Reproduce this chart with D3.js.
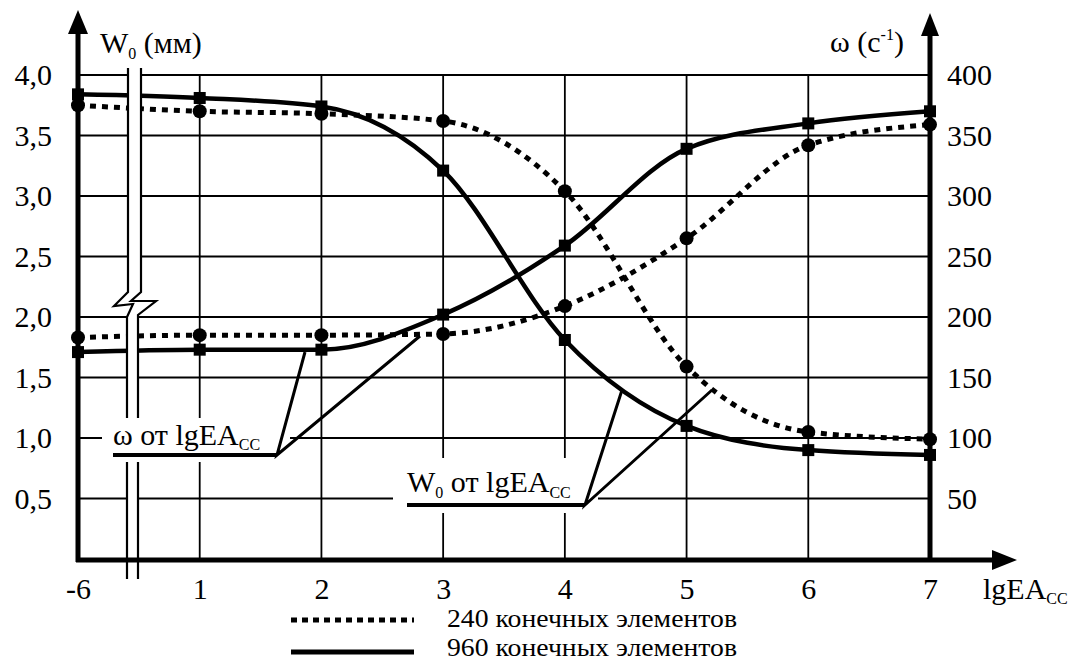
<!DOCTYPE html>
<html>
<head>
<meta charset="utf-8">
<script src="https://cdn.jsdelivr.net/npm/d3@7"></script>
<style>
body { margin: 0; background: #fff; }
</style>
</head>
<body>
<div id="graph"></div>
<script>
// data
var xLabels = ["-6", "1", "2", "3", "4", "5", "6", "7"];
var w0Ticks = [0.5, 1, 1.5, 2, 2.5, 3, 3.5, 4];
var omegaTicks = [50, 100, 150, 200, 250, 300, 350, 400];

var w0_240 = [3.75, 3.70, 3.68, 3.62, 3.04, 1.59, 1.05, 0.99];
var w0_960 = [3.84, 3.81, 3.74, 3.21, 1.81, 1.10, 0.90, 0.86];
var om_240 = [183, 185, 185, 186, 209, 265, 342, 359];
var om_960 = [171, 173, 173, 202, 259, 339, 360, 370];

var W = 1071, H = 662;
var FONT = "'Liberation Serif'";

var x = d3.scaleLinear().domain([0, 7]).range([78, 930]);
var yL = d3.scaleLinear().domain([0, 4]).range([559, 75]);
var yR = d3.scaleLinear().domain([0, 400]).range([559, 75]);

var svg = d3.select("#graph").append("svg")
    .attr("width", W)
    .attr("height", H)
    .style("font-family", FONT);

// grid
svg.append("g").selectAll("line")
    .data(w0Ticks)
    .enter().append("line")
    .attr("x1", x(0)).attr("x2", x(7))
    .attr("y1", function(d) { return yL(d); })
    .attr("y2", function(d) { return yL(d); })
    .attr("stroke", "#000").attr("stroke-width", 1.8);

svg.append("g").selectAll("line")
    .data(d3.range(1, 7))
    .enter().append("line")
    .attr("x1", function(d) { return x(d); })
    .attr("x2", function(d) { return x(d); })
    .attr("y1", yL(4)).attr("y2", yL(0))
    .attr("stroke", "#000").attr("stroke-width", 1.8);

// curves
var lineL = d3.line()
    .x(function(d, i) { return x(i); })
    .y(function(d) { return yL(d); })
    .curve(d3.curveMonotoneX);
var lineR = d3.line()
    .x(function(d, i) { return x(i); })
    .y(function(d) { return yR(d); })
    .curve(d3.curveMonotoneX);

var series = [
    {vals: w0_240, line: lineL, y: yL, dotted: true},
    {vals: om_240, line: lineR, y: yR, dotted: true},
    {vals: w0_960, line: lineL, y: yL, dotted: false},
    {vals: om_960, line: lineR, y: yR, dotted: false}
];

series.forEach(function(s) {
    svg.append("path")
        .attr("d", s.line(s.vals))
        .attr("fill", "none")
        .attr("stroke", "#000")
        .attr("stroke-width", s.dotted ? 5 : 4.5)
        .attr("stroke-dasharray", s.dotted ? "6,6" : null);
});

// axis break (white band with zigzag)
var brkL = [[128, 68], [128, 292], [114, 306], [133, 304], [127, 317], [127, 579]];
var brkR = [[141, 68], [141, 292], [131, 301], [156, 301], [138, 315], [138, 579]];
svg.append("polygon")
    .attr("points", brkL.concat(brkR.slice().reverse()).map(function(p) { return p.join(","); }).join(" "))
    .attr("fill", "#fff");
[brkL, brkR].forEach(function(pts) {
    svg.append("path")
        .attr("d", d3.line()(pts))
        .attr("fill", "none")
        .attr("stroke", "#000")
        .attr("stroke-width", 2.2);
});

// axes lines with arrows
svg.append("line")
    .attr("x1", x(0)).attr("x2", x(0))
    .attr("y1", 562).attr("y2", 30)
    .attr("stroke", "#000").attr("stroke-width", 5);
svg.append("path").attr("d", "M78,10 L68,34 L88,34 Z").attr("fill", "#000");

svg.append("line")
    .attr("x1", x(7)).attr("x2", x(7))
    .attr("y1", 562).attr("y2", 32)
    .attr("stroke", "#000").attr("stroke-width", 5);
svg.append("path").attr("d", "M930,13 L921,36 L939,36 Z").attr("fill", "#000");

svg.append("line")
    .attr("x1", 76).attr("x2", 995)
    .attr("y1", 560).attr("y2", 560)
    .attr("stroke", "#000").attr("stroke-width", 5);
svg.append("path").attr("d", "M1017,560 L992,550 L992,570 Z").attr("fill", "#000");

// markers
series.forEach(function(s) {
    var g = svg.append("g");
    if (s.dotted) {
        g.selectAll("circle").data(s.vals).enter().append("circle")
            .attr("cx", function(d, i) { return x(i); })
            .attr("cy", function(d) { return s.y(d); })
            .attr("r", 7);
    } else {
        g.selectAll("rect").data(s.vals).enter().append("rect")
            .attr("x", function(d, i) { return x(i) - 6; })
            .attr("y", function(d) { return s.y(d) - 6; })
            .attr("width", 12).attr("height", 12);
    }
});

// tick labels
var yAxisL = d3.axisLeft(yL)
    .tickValues(w0Ticks)
    .tickSize(0)
    .tickPadding(26)
    .tickFormat(function(d) { return d3.format(".1f")(d).replace(".", ","); });
var gL = svg.append("g").attr("transform", "translate(" + x(0) + ",0)").call(yAxisL);

var yAxisR = d3.axisRight(yR)
    .tickValues(omegaTicks)
    .tickSize(0)
    .tickPadding(17);
var gR = svg.append("g").attr("transform", "translate(" + x(7) + ",0)").call(yAxisR);

var xAxis = d3.axisBottom(x)
    .tickValues(d3.range(0, 8))
    .tickSize(0)
    .tickPadding(18)
    .tickFormat(function(d) { return xLabels[d]; });
var gX = svg.append("g").attr("transform", "translate(0,560)").call(xAxis);

[gL, gR, gX].forEach(function(g) {
    g.attr("font-size", 30);
    g.select(".domain").remove();
    g.selectAll("text").style("font-family", FONT).attr("fill", "#000");
});

function label(xp, yp, size) {
    return svg.append("text")
        .attr("x", xp).attr("y", yp)
        .attr("font-size", size)
        .style("font-family", FONT);
}

// axis titles
var t1 = label(100, 53, 30);
t1.append("tspan").text("W");
t1.append("tspan").attr("font-size", 16).attr("dy", 6).text("0");
t1.append("tspan").attr("dy", -6).text(" (мм)");

var t2 = label(830, 52, 30);
t2.append("tspan").text("ω (c");
t2.append("tspan").attr("font-size", 16).attr("dy", -12).text("-1");
t2.append("tspan").attr("dy", 12).text(")");

var t3 = label(983, 599, 30);
t3.append("tspan").text("lgEA");
t3.append("tspan").attr("font-size", 16).attr("dy", 5).text("СС");

// annotation labels
svg.append("rect").attr("x", 102).attr("y", 418).attr("width", 188).attr("height", 44).attr("fill", "#fff");
svg.append("rect").attr("x", 393).attr("y", 458).attr("width", 205).attr("height", 55).attr("fill", "#fff");

var a1 = label(113, 445, 30);
a1.append("tspan").text("ω от lgEA");
a1.append("tspan").attr("font-size", 16).attr("dy", 5).text("СС");

var a2 = label(407, 492, 30);
a2.append("tspan").text("W");
a2.append("tspan").attr("font-size", 16).attr("dy", 6).text("0");
a2.append("tspan").attr("dy", -6).text(" от lgEA");
a2.append("tspan").attr("font-size", 16).attr("dy", 6).text("СС");

// leader lines
svg.append("path").attr("d", "M113,455 L277,455").attr("stroke", "#000").attr("stroke-width", 4);
svg.append("path").attr("d", "M305,352 L277,455 L420,336").attr("fill", "none").attr("stroke", "#000").attr("stroke-width", 3);
svg.append("path").attr("d", "M407,505 L585,505").attr("stroke", "#000").attr("stroke-width", 4);
svg.append("path").attr("d", "M622,390 L585,505 L712,390").attr("fill", "none").attr("stroke", "#000").attr("stroke-width", 3);

// legend
svg.append("line").attr("x1", 291).attr("x2", 414).attr("y1", 620).attr("y2", 620)
    .attr("stroke", "#000").attr("stroke-width", 5).attr("stroke-dasharray", "6,5");
svg.append("line").attr("x1", 291).attr("x2", 414).attr("y1", 652).attr("y2", 652)
    .attr("stroke", "#000").attr("stroke-width", 5);
label(447, 627, 25).attr("textLength", 290).attr("lengthAdjust", "spacingAndGlyphs").text("240 конечных элементов");
label(447, 656, 25).attr("textLength", 290).attr("lengthAdjust", "spacingAndGlyphs").text("960 конечных элементов");
</script>
</body>
</html>
